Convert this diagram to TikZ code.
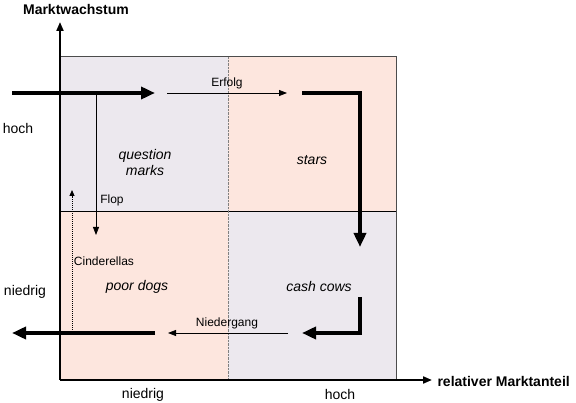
\documentclass[tikz,border=0pt]{standalone}
\usepackage{fontspec}
\setmainfont{Liberation Sans}
\usetikzlibrary{arrows.meta}
\definecolor{lavender}{HTML}{ECE8EE}
\definecolor{peach}{HTML}{FDE6DE}
\begin{document}
\begin{tikzpicture}[
        x=1pt, y=-1pt,
        every node/.style={font=\fontsize{14}{16}\selectfont},
        small/.style={font=\fontsize{12}{14}\selectfont},
        quad/.style={font=\fontsize{14}{16}\selectfont\itshape, align=center},
        axis/.style={-{Triangle[length=9pt,width=7pt]}, line width=2pt},
        bigarrow/.style={-{Triangle[length=14pt,width=12pt]}, line width=4pt, line join=miter},
        thinarrow/.style={-{Triangle[length=8pt,width=6pt]}, line width=0.8pt}
    ]
    \useasboundingbox (0,0) rectangle (576,403);

    % =====================================================
    % Quadrants
    % =====================================================
    \fill[lavender] (60,57) rectangle (228,212);
    \fill[peach] (228,57) rectangle (396,212);
    \fill[peach] (60,212) rectangle (228,380);
    \fill[lavender] (228,212) rectangle (396,380);

    \draw[gray!60!black, line width=1pt] (60,57) -- (396,57) -- (396,380);
    \draw[line width=1pt] (60,212) -- (396,212);
    \draw[densely dotted, gray] (228,57) -- (228,380);

    \node[quad] (qm) at (145,162) {question\\marks};
    \node[quad] (stars) at (312,160) {stars};
    \node[quad] (dogs) at (137,287) {poor dogs};
    \node[quad] (cows) at (319,286) {cash cows};

    % =====================================================
    % Axes
    % =====================================================
    \coordinate (origin) at (60,380);
    \coordinate (ytop) at (60,22);
    \coordinate (xend) at (432,380);
    \draw[axis] (origin) -- (ytop);
    \draw[axis] (origin) -- (xend);

    \node[font=\fontsize{14}{16}\selectfont\bfseries] (ylabel) at (76,9) {Marktwachstum};
    \node[font=\fontsize{14}{16}\selectfont\bfseries, anchor=west] (xlabel) at (434,381) {relativer Marktanteil};

    \node (hochY) at (18,128) {hoch};
    \node (niedrigY) at (25,292) {niedrig};
    \node (niedrigX) at (143,395) {niedrig};
    \node (hochX) at (340,394) {hoch};

    % =====================================================
    % Top: entry and success path
    % =====================================================
    \coordinate (inA) at (12,93);
    \coordinate (inB) at (155,93);
    \draw[bigarrow] (inA) -- (inB);

    \coordinate (erfA) at (167,93);
    \coordinate (erfB) at (287,93);
    \draw[thinarrow] (erfA) -- (erfB);
    \node[small] (erfolg) at (227,83) {Erfolg};

    \coordinate (starA) at (302,93);
    \coordinate (starB) at (360,93);
    \coordinate (starC) at (360,247);
    \draw[bigarrow] (starA) -- (starB) -- (starC);

    % Flop and Cinderellas
    \coordinate (flopA) at (96,93);
    \coordinate (flopB) at (96,235);
    \draw[thinarrow] (flopA) -- (flopB);
    \node[small] (flop) at (112,200) {Flop};

    \coordinate (cinA) at (72,330);
    \coordinate (cinB) at (72,190);
    \draw[-{Triangle[length=6pt,width=5pt]}, densely dotted, line width=1pt] (cinA) -- (cinB);
    \node[small] (cinderellas) at (104,261) {Cinderellas};

    % =====================================================
    % Bottom: decline and exit path
    % =====================================================
    \coordinate (cowA) at (360,297);
    \coordinate (cowB) at (360,333);
    \coordinate (cowC) at (302,333);
    \draw[bigarrow] (cowA) -- (cowB) -- (cowC);

    \coordinate (nieA) at (288,333);
    \coordinate (nieB) at (168,333);
    \draw[thinarrow] (nieA) -- (nieB);
    \node[small] (niedergang) at (227,323) {Niedergang};

    \coordinate (outA) at (155,333);
    \coordinate (outB) at (12,333);
    \draw[bigarrow] (outA) -- (outB);

    \end{tikzpicture}
\end{document}
